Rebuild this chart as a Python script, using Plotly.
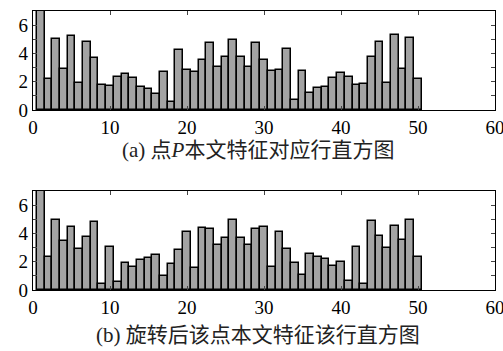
import plotly.graph_objects as go
from plotly.subplots import make_subplots

# Row histogram values, bins 1..50
bins = list(range(1, 51))
hist_a = [7.4, 2.17, 5.02, 2.88, 5.24, 1.89, 4.79, 3.70, 1.79, 1.70,
          2.31, 2.57, 2.24, 1.60, 1.51, 1.13, 2.69, 0.59, 4.25, 2.83,
          2.69, 3.51, 4.74, 3.04, 3.77, 4.95, 3.77, 3.04, 4.72, 3.55,
          2.73, 2.85, 4.28, 0.68, 2.73, 1.20, 1.58, 1.65, 2.28, 2.64,
          2.35, 1.74, 1.84, 3.74, 4.82, 1.93, 5.27, 2.92, 5.06, 2.19]
hist_b = [7.4, 2.31, 4.93, 3.49, 4.48, 2.91, 3.75, 4.83, 0.40, 3.02,
          0.59, 1.91, 1.65, 2.12, 2.28, 2.45, 1.01, 1.84, 2.85, 4.08,
          1.56, 4.37, 4.30, 3.21, 3.66, 4.95, 3.66, 3.21, 4.30, 4.45,
          1.62, 4.12, 2.89, 1.88, 1.06, 2.52, 2.33, 2.16, 1.72, 1.95,
          0.64, 3.06, 0.45, 4.87, 3.79, 2.94, 4.52, 3.53, 4.96, 2.35]

x_ticks = [0, 10, 20, 30, 40, 50, 60]
y_ticks = [0, 1, 2, 3, 4, 5, 6]
y_text = ["0", "", "2", "", "4", "", "6"]
captions = ["(a) 点<i>P</i>本文特征对应行直方图", "(b) 旋转后该点本文特征该行直方图"]

fig = make_subplots(rows=2, cols=1, vertical_spacing=0.29)

for i, vals in enumerate([hist_a, hist_b], start=1):
    fig.add_trace(go.Bar(x=bins, y=vals, width=1.0,
                         marker=dict(color="#a3a3a3",
                                     line=dict(color="black", width=1.5)),
                         showlegend=False), row=i, col=1)

axis_font = dict(family="Times New Roman, Liberation Serif, serif", size=19,
                 color="black")
fig.update_xaxes(range=[0, 60], tickvals=x_ticks, ticks="inside", ticklen=4,
                 showline=True, linecolor="black", linewidth=1.3, mirror="ticks",
                 showgrid=False, zeroline=False, tickfont=axis_font,
                 ticklabeloverflow="allow", automargin=False)
fig.update_yaxes(range=[0, 7], tickvals=y_ticks, ticktext=y_text, ticks="inside",
                 ticklen=4, showline=True, linecolor="black", linewidth=1.3,
                 mirror="ticks", showgrid=False, zeroline=False, tickfont=axis_font,
                 automargin=False)

cap_y = [0.502, -0.161]
for text, y in zip(captions, cap_y):
    fig.add_annotation(text=text, xref="paper", yref="paper", x=0.487, y=y,
                       showarrow=False, xanchor="center", yanchor="middle",
                       font=dict(family="Times New Roman, Noto Sans CJK SC, serif",
                                 size=21, color="#222"))

fig.update_layout(width=503, height=351, bargap=0,
                  margin=dict(l=33, r=8, t=11, b=61),
                  paper_bgcolor="white", plot_bgcolor="white")

fig.write_html("out.html")
